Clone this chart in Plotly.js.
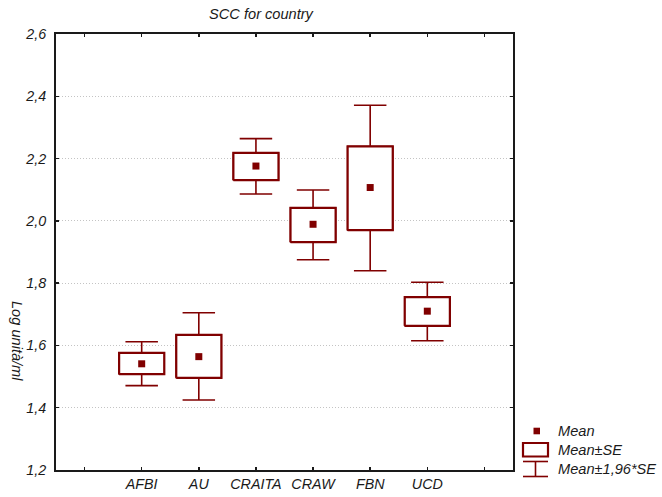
<!DOCTYPE html>
<html>
<head>
<meta charset="utf-8">
<script src="https://cdn.plot.ly/plotly-3.0.1.min.js"></script>
<style>html,body{margin:0;padding:0;background:#fff;}#chart{width:662px;height:497px;}</style>
</head>
<body>
<div id="chart"></div>
<script>
// ---- data ----
var categories = ['AFBI', 'AU', 'CRAITA', 'CRAW', 'FBN', 'UCD'];
var means  = [1.541, 1.564, 2.176, 1.989, 2.107, 1.710];
var seLow  = [1.508, 1.496, 2.131, 1.932, 1.970, 1.663];
var seHigh = [1.576, 1.634, 2.218, 2.042, 2.239, 1.755];
var ciLow  = [1.471, 1.425, 2.086, 1.875, 1.840, 1.615];
var ciHigh = [1.612, 1.705, 2.264, 2.099, 2.371, 1.803];
var yTicks = [1.2, 1.4, 1.6, 1.8, 2.0, 2.2, 2.4, 2.6];
var titleText = 'SCC for country';
var yTitle = 'Log unità/ml';
var legendLabels = ['Mean', 'Mean±SE', 'Mean±1,96*SE'];

// ---- layout helpers ----
var W = 662, H = 497;
var PL = 56, PR = 513, PT = 34, PB = 470;
function px(x) { return (x - PL) / (PR - PL); }
function py(y) { return (PB - y) / (PB - PT); }

var red = '#800000';
var xpos = categories.map(function (c, i) { return i + 1; });
var tickvals = [0, 1, 2, 3, 4, 5, 6, 7];
var ticktext = [''].concat(categories).concat(['']);
var fontFam = 'Liberation Sans, Arial, sans-serif';
var baseFont = {family: fontFam, size: 14.6, color: '#1a1a1a', style: 'italic'};
var tickFont = {family: fontFam, size: 14.3, color: '#1a1a1a', style: 'italic'};
var boxHalf = 0.395;

// whiskers (Mean ± 1.96*SE) drawn by a box trace from precomputed stats
var whiskers = {
  type: 'box', x: xpos,
  q1: seLow, median: seLow, q3: seHigh,
  lowerfence: ciLow, upperfence: ciHigh,
  width: 2 * boxHalf, whiskerwidth: 0.72,
  line: {color: red, width: 1.6}, fillcolor: 'white',
  boxpoints: false, showlegend: false, hoverinfo: 'skip'
};

// SE boxes as filled outlines (white fill hides the whisker inside the box)
var bx = [], by = [];
xpos.forEach(function (x, i) {
  bx.push(x - boxHalf, x + boxHalf, x + boxHalf, x - boxHalf, x - boxHalf, null);
  by.push(seLow[i], seLow[i], seHigh[i], seHigh[i], seLow[i], null);
});
var boxes = {
  type: 'scatter', mode: 'lines', x: bx, y: by,
  fill: 'toself', fillcolor: 'white',
  line: {color: red, width: 2.2},
  showlegend: false, hoverinfo: 'skip', connectgaps: false
};

var meanPts = {
  type: 'scatter', mode: 'markers', x: xpos, y: means,
  marker: {symbol: 'square', size: 7, color: red},
  showlegend: false, hoverinfo: 'skip'
};

var shapes = [
  // legend: mean marker
  {type: 'rect', xref: 'paper', yref: 'paper', x0: px(533.5), x1: px(540), y0: py(427.7), y1: py(434.3),
   fillcolor: red, line: {width: 0}},
  // legend: SE box
  {type: 'rect', xref: 'paper', yref: 'paper', x0: px(523), x1: px(548), y0: py(443), y1: py(456.5),
   fillcolor: 'white', line: {color: red, width: 2.2}},
  // legend: whisker symbol
  {type: 'line', xref: 'paper', yref: 'paper', x0: px(523), x1: px(548), y0: py(461.5), y1: py(461.5),
   line: {color: red, width: 1.6}},
  {type: 'line', xref: 'paper', yref: 'paper', x0: px(535.5), x1: px(535.5), y0: py(461.5), y1: py(476.5),
   line: {color: red, width: 1.6}},
  {type: 'line', xref: 'paper', yref: 'paper', x0: px(523), x1: px(548), y0: py(476.5), y1: py(476.5),
   line: {color: red, width: 1.6}}
];

var annotations = [
  {text: yTitle, xref: 'paper', yref: 'paper', x: px(17), y: py(341), textangle: 90,
   showarrow: false, xanchor: 'center', yanchor: 'middle', font: baseFont},
  {text: legendLabels[0], xref: 'paper', yref: 'paper', x: px(556), y: py(431),
   showarrow: false, xanchor: 'left', yanchor: 'middle', font: baseFont},
  {text: legendLabels[1], xref: 'paper', yref: 'paper', x: px(556), y: py(450),
   showarrow: false, xanchor: 'left', yanchor: 'middle', font: baseFont},
  {text: legendLabels[2], xref: 'paper', yref: 'paper', x: px(556), y: py(469),
   showarrow: false, xanchor: 'left', yanchor: 'middle', font: baseFont}
];

var layout = {
  width: W, height: H,
  margin: {l: PL, r: W - PR, t: PT, b: H - PB, pad: 0},
  paper_bgcolor: 'white', plot_bgcolor: 'white',
  font: baseFont,
  separators: ',.',
  showlegend: false,
  boxmode: 'overlay',
  title: {text: titleText, x: 261 / W, xref: 'container', xanchor: 'center',
          y: 1 - 14 / H, yref: 'container', yanchor: 'middle', font: baseFont},
  xaxis: {
    range: [-0.5, 7.5], tickmode: 'array', tickvals: tickvals, ticktext: ticktext,
    showgrid: false, zeroline: false,
    showline: true, linecolor: '#1a1a1a', linewidth: 2, mirror: 'ticks',
    ticks: 'inside', ticklen: 3, tickcolor: '#1a1a1a', tickwidth: 1.5,
    tickfont: tickFont, fixedrange: true
  },
  yaxis: {
    range: [1.2, 2.6], tickmode: 'array', tickvals: yTicks, tickformat: '.1f',
    showgrid: true, gridcolor: '#c4c4c4', gridwidth: 1, griddash: '1px,2px',
    zeroline: false,
    showline: true, linecolor: '#1a1a1a', linewidth: 2, mirror: 'ticks',
    ticks: 'inside', ticklen: 3, tickcolor: '#1a1a1a', tickwidth: 1.5,
    tickfont: tickFont, ticklabelstandoff: 5, fixedrange: true
  },
  shapes: shapes,
  annotations: annotations
};

Plotly.newPlot('chart', [whiskers, boxes, meanPts], layout, {staticPlot: true, displayModeBar: false});
</script>
</body>
</html>
